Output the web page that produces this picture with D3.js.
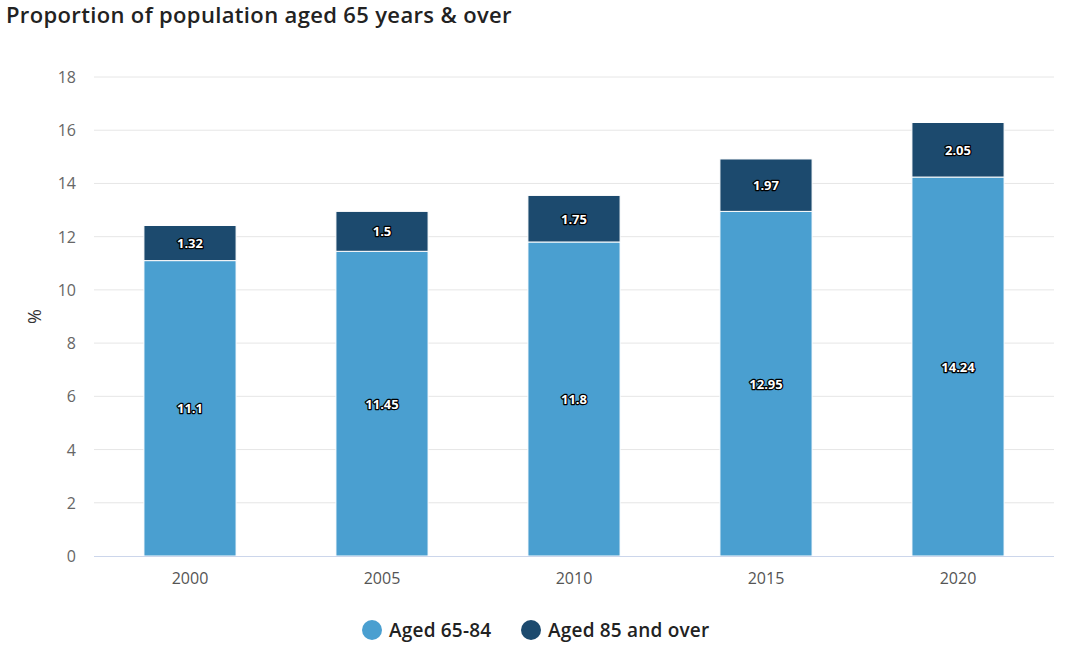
<!DOCTYPE html>
<html>
<head>
<meta charset="utf-8">
<script src="https://cdn.jsdelivr.net/npm/d3@7"></script>
<style>
  body { margin: 0; background: #fff; font-family: "Open Sans", "Noto Sans", sans-serif; }
</style>
</head>
<body>
<svg id="chart" width="1076" height="664"></svg>
<script>
// chart data
const years = ["2000", "2005", "2010", "2015", "2020"];
const aged65to84 = [11.1, 11.45, 11.8, 12.95, 14.24];
const aged85over = [1.32, 1.5, 1.75, 1.97, 2.05];
const seriesNames = ["Aged 65-84", "Aged 85 and over"];
const seriesColors = ["#4a9fd0", "#1c4a6e"];
const yTicks = [0, 2, 4, 6, 8, 10, 12, 14, 16, 18];

const svg = d3.select("#chart");
const margin = {top: 77, right: 22, bottom: 108, left: 94};
const width = 1076 - margin.left - margin.right;
const height = 664 - margin.top - margin.bottom;

svg.append("text")
  .attr("x", 6).attr("y", 23)
  .attr("font-size", 22).attr("font-weight", 600)
  .attr("letter-spacing", 0.35)
  .attr("fill", "#222")
  .text("Proportion of population aged 65 years & over");

const g = svg.append("g").attr("transform", `translate(${margin.left},${margin.top})`);

const x = d3.scaleBand().domain(years).range([0, width]).paddingInner(0.52).paddingOuter(0.26);
const y = d3.scaleLinear().domain([0, 18]).range([height, 0]);

// grid
g.append("g").selectAll("line")
  .data(yTicks.filter(d => d > 0))
  .enter().append("line")
  .attr("x1", 0).attr("x2", width)
  .attr("y1", d => y(d)).attr("y2", d => y(d))
  .attr("stroke", "#e6e6e6");

// y labels
g.append("g").selectAll("text")
  .data(yTicks)
  .enter().append("text")
  .attr("x", -18).attr("y", d => y(d) + 6)
  .attr("text-anchor", "end")
  .attr("font-size", 16).attr("fill", "#666")
  .text(d => d);

svg.append("text")
  .attr("transform", `translate(41,${margin.top + height / 2}) rotate(-90)`)
  .attr("text-anchor", "middle")
  .attr("font-size", 18).attr("fill", "#333")
  .text("%");

// stacked data
const rows = years.map((yr, i) => ({year: yr, a: aged65to84[i], b: aged85over[i]}));
const stack = d3.stack().keys(["a", "b"])(rows);

const layers = g.append("g").selectAll("g")
  .data(stack)
  .enter().append("g")
  .attr("fill", (d, i) => seriesColors[i]);

layers.selectAll("rect")
  .data(d => d)
  .enter().append("rect")
  .attr("x", d => x(d.data.year))
  .attr("width", x.bandwidth())
  .attr("y", d => y(d[1]))
  .attr("height", d => y(d[0]) - y(d[1]))
  .attr("stroke", "#fff").attr("stroke-width", 1);

// data labels
const labels = g.append("g");
stack.forEach(layer => {
  layer.forEach(d => {
    labels.append("text")
      .attr("x", x(d.data.year) + x.bandwidth() / 2)
      .attr("y", (y(d[0]) + y(d[1])) / 2 + 5)
      .attr("text-anchor", "middle")
      .attr("font-size", 13).attr("font-weight", 700)
      .attr("fill", "#fff")
      .attr("stroke", "#000").attr("stroke-width", 2.5)
      .attr("stroke-linejoin", "round")
      .attr("paint-order", "stroke")
      .text(layer.key === "a" ? d.data.a : d.data.b);
  });
});

// x axis
g.append("line")
  .attr("x1", 0).attr("x2", width)
  .attr("y1", height + 0.5).attr("y2", height + 0.5)
  .attr("stroke", "#ccd6eb");

g.append("g").selectAll("text")
  .data(years)
  .enter().append("text")
  .attr("x", d => x(d) + x.bandwidth() / 2)
  .attr("y", height + 28)
  .attr("text-anchor", "middle")
  .attr("font-size", 16).attr("fill", "#555")
  .text(d => d);

// legend
const legend = svg.append("g").attr("transform", "translate(372,630)");
const legendOffsets = [0, 159];
seriesNames.forEach((name, i) => {
  const item = legend.append("g").attr("transform", `translate(${legendOffsets[i]},0)`);
  item.append("circle").attr("r", 10).attr("fill", seriesColors[i]);
  item.append("text").attr("x", 17).attr("y", 7)
    .attr("font-size", 19).attr("font-weight", 600).attr("fill", "#222")
    .attr("letter-spacing", 0.2)
    .text(name);
});
</script>
</body>
</html>
